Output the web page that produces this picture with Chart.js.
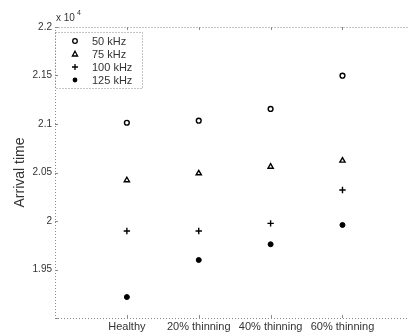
<!DOCTYPE html>
<html>
<head>
<meta charset="utf-8">
<script src="https://cdn.jsdelivr.net/npm/chart.js@4"></script>
<style>
  html, body { margin: 0; padding: 0; background: #fff; overflow: hidden; }
  #wrap { width: 414px; height: 334px; position: relative; }
</style>
</head>
<body>
<div id="wrap"><canvas id="chart"></canvas></div>
<script>
// categories and arrival times
const categories = ['Healthy', '20% thinning', '40% thinning', '60% thinning'];
const khz50 = [21013, 21034, 21155, 21498];
const khz75 = [20420, 20492, 20560, 20622];
const khz100 = [19897, 19897, 19976, 20320];
const khz125 = [19216, 19598, 19760, 19959];
const yTicks = [19000, 19500, 20000, 20500, 21000, 21500, 22000];

const seriesNames = ['50 kHz', '75 kHz', '100 kHz', '125 kHz'];

function points(arr) {
    return arr.map((v, i) => ({ x: i + 1, y: v }));
}

const AXIS = '#8a8a8a';
const TEXT = '#333';
const FONT = '"Liberation Sans", Arial, sans-serif';

// dotted frame, inward ticks, legend box and the x 10^4 label
const framePlugin = {
    id: 'frame',
    afterDraw(chart) {
        const ctx = chart.ctx;
        const a = chart.chartArea;
        const xs = chart.scales.x, ys = chart.scales.y;
        ctx.save();
        ctx.strokeStyle = AXIS;
        ctx.lineWidth = 1;
        ctx.setLineDash([1, 2]);
        ctx.beginPath();
        ctx.moveTo(a.left + 0.5, a.top + 0.5);
        ctx.lineTo(a.right, a.top + 0.5);
        ctx.moveTo(a.left + 0.5, a.top);
        ctx.lineTo(a.left + 0.5, a.bottom + 0.5);
        ctx.lineTo(a.right, a.bottom + 0.5);
        ctx.stroke();
        ctx.setLineDash([]);
        ctx.beginPath();
        categories.forEach((c, i) => {
            const px = Math.round(xs.getPixelForValue(i + 1)) + 0.5;
            ctx.moveTo(px, a.bottom);
            ctx.lineTo(px, a.bottom - 3);
            ctx.moveTo(px, a.top);
            ctx.lineTo(px, a.top + 3);
        });
        yTicks.forEach(v => {
            const py = Math.round(ys.getPixelForValue(v)) + 0.5;
            ctx.moveTo(a.left, py);
            ctx.lineTo(a.left + 3, py);
        });
        ctx.stroke();

        // x 10^4
        ctx.fillStyle = TEXT;
        ctx.font = '10px ' + FONT;
        ctx.textBaseline = 'alphabetic';
        ctx.textAlign = 'left';
        ctx.fillText('x 10', a.left + 1, a.top - 6);
        ctx.font = '7px ' + FONT;
        ctx.fillText('4', a.left + 22, a.top - 12);

        // legend
        const lx = a.left, ly = a.top + 5, lw = 87, lh = 56;
        ctx.strokeStyle = AXIS;
        ctx.setLineDash([1, 2]);
        ctx.strokeRect(lx + 0.5, ly + 0.5, lw, lh);
        ctx.setLineDash([]);
        ctx.font = '11px ' + FONT;
        ctx.textBaseline = 'middle';
        chart.data.datasets.forEach((ds, i) => {
            const cy = ly + 9 + i * 13;
            const mx = lx + 20;
            ctx.strokeStyle = '#000';
            ctx.fillStyle = '#000';
            ctx.lineWidth = 1.3;
            ctx.beginPath();
            if (ds.pointStyle === 'circle' && ds.pointBackgroundColor === '#fff') {
                ctx.arc(mx, cy, 2.3, 0, Math.PI * 2);
                ctx.stroke();
            } else if (ds.pointStyle === 'triangle') {
                ctx.moveTo(mx, cy - 2.8);
                ctx.lineTo(mx + 2.6, cy + 2);
                ctx.lineTo(mx - 2.6, cy + 2);
                ctx.closePath();
                ctx.stroke();
            } else if (ds.pointStyle === 'cross') {
                ctx.moveTo(mx - 3, cy); ctx.lineTo(mx + 3, cy);
                ctx.moveTo(mx, cy - 3); ctx.lineTo(mx, cy + 3);
                ctx.stroke();
            } else {
                ctx.arc(mx, cy, 2.4, 0, Math.PI * 2);
                ctx.fill();
            }
            ctx.fillStyle = TEXT;
            ctx.fillText(ds.label, lx + 37, cy + 0.5);
        });
        ctx.restore();
    }
};

const ctx = document.getElementById('chart').getContext('2d');
new Chart(ctx, {
    type: 'scatter',
    data: {
        datasets: [
            { label: seriesNames[0], data: points(khz50), pointStyle: 'circle', pointRadius: 2.4,
              borderColor: '#000', pointBackgroundColor: '#fff', pointBorderWidth: 1.4 },
            { label: seriesNames[1], data: points(khz75), pointStyle: 'triangle', pointRadius: 3,
              borderColor: '#000', pointBackgroundColor: '#fff', pointBorderWidth: 1.4 },
            { label: seriesNames[2], data: points(khz100), pointStyle: 'cross', pointRadius: 3.2,
              borderColor: '#000', pointBackgroundColor: '#000', pointBorderWidth: 1.4 },
            { label: seriesNames[3], data: points(khz125), pointStyle: 'circle', pointRadius: 2.5,
              borderColor: '#000', pointBackgroundColor: '#000', pointBorderWidth: 1 }
        ]
    },
    options: {
        responsive: true,
        maintainAspectRatio: false,
        animation: false,
        layout: { padding: { top: 27, right: 0, left: 0, bottom: 0 } },
        plugins: {
            legend: { display: false },
            tooltip: { enabled: false }
        },
        scales: {
            x: {
                type: 'linear',
                min: 0,
                max: 4.92,
                afterBuildTicks: s => { s.ticks = categories.map((c, i) => ({ value: i + 1 })); },
                afterFit: s => { s.height = 16; },
                grid: { display: false, drawTicks: false },
                border: { display: false },
                ticks: {
                    autoSkip: false,
                    maxRotation: 0,
                    padding: 2,
                    color: TEXT,
                    font: { size: 11, family: FONT },
                    callback: v => categories[v - 1]
                }
            },
            y: {
                min: 19000,
                max: 22000,
                afterBuildTicks: s => { s.ticks = yTicks.map(v => ({ value: v })); },
                afterFit: s => { s.width = 55; },
                grid: { display: false, drawTicks: false },
                border: { display: false },
                title: {
                    display: true,
                    text: 'Arrival time',
                    color: TEXT,
                    padding: { top: 12, bottom: 0 },
                    font: { size: 14, family: FONT }
                },
                ticks: {
                    padding: 3,
                    color: TEXT,
                    font: { size: 10, family: FONT },
                    callback: v => v === 19000 ? '' : String(v / 10000)
                }
            }
        }
    },
    plugins: [framePlugin]
});
</script>
</body>
</html>
